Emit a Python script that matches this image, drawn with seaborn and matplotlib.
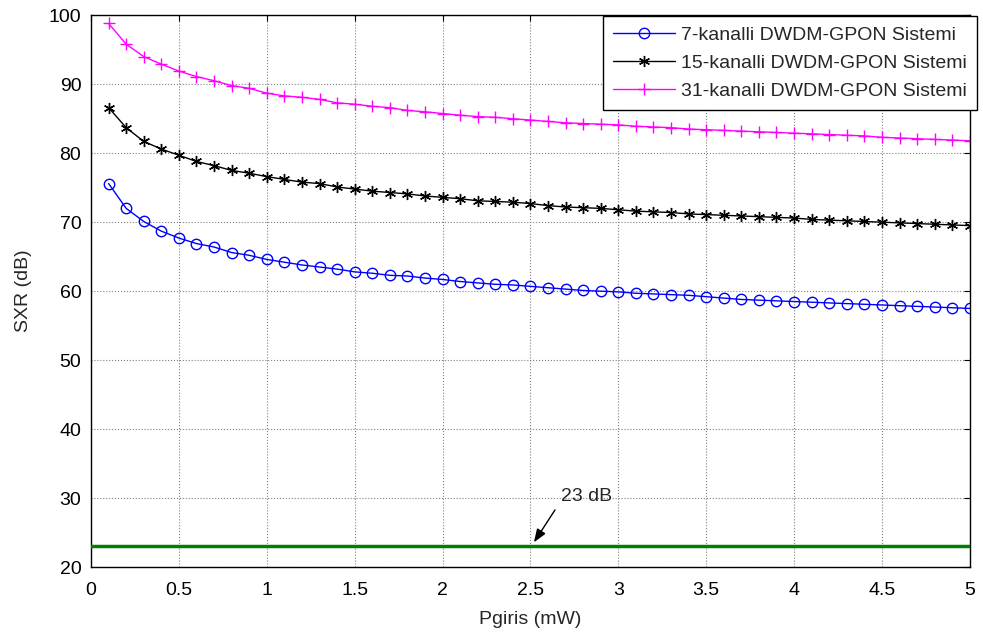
import numpy as np
import pandas as pd
import matplotlib
matplotlib.use("Agg")
import matplotlib.pyplot as plt
import seaborn as sns

# ---- data ----
x_vals = [round(0.1 * i, 1) for i in range(1, 51)]

sxr_7 = [75.6, 72.0, 70.1, 68.7, 67.7, 66.9, 66.4, 65.6, 65.2, 64.6,
         64.2, 63.8, 63.5, 63.2, 62.8, 62.6, 62.3, 62.2, 61.9, 61.7,
         61.4, 61.2, 61.0, 60.9, 60.7, 60.5, 60.3, 60.1, 60.0, 59.9,
         59.7, 59.6, 59.5, 59.4, 59.2, 59.0, 58.8, 58.7, 58.6, 58.5,
         58.4, 58.3, 58.2, 58.1, 58.0, 57.9, 57.8, 57.7, 57.6, 57.5]

sxr_15 = [86.6, 83.7, 81.7, 80.6, 79.7, 78.8, 78.2, 77.5, 77.1, 76.6,
          76.2, 75.8, 75.6, 75.1, 74.8, 74.5, 74.3, 74.1, 73.8, 73.6,
          73.4, 73.1, 73.0, 72.9, 72.7, 72.4, 72.2, 72.1, 72.0, 71.8,
          71.6, 71.5, 71.4, 71.2, 71.1, 71.0, 70.9, 70.8, 70.7, 70.6,
          70.4, 70.3, 70.2, 70.1, 70.0, 69.9, 69.8, 69.7, 69.6, 69.5]

sxr_31 = [98.8, 95.8, 94.0, 92.9, 91.9, 91.1, 90.5, 89.8, 89.4, 88.7,
          88.3, 88.1, 87.8, 87.3, 87.1, 86.8, 86.6, 86.2, 86.0, 85.75,
          85.5, 85.3, 85.2, 85.0, 84.8, 84.6, 84.4, 84.3, 84.2, 84.1,
          83.9, 83.8, 83.7, 83.5, 83.4, 83.3, 83.2, 83.1, 83.0, 82.9,
          82.8, 82.7, 82.6, 82.5, 82.3, 82.2, 82.1, 82.0, 81.9, 81.8]

threshold = 23
labels = ["7-kanalli DWDM-GPON Sistemi",
          "15-kanalli DWDM-GPON Sistemi",
          "31-kanalli DWDM-GPON Sistemi"]
x_ticks = [0, 0.5, 1, 1.5, 2, 2.5, 3, 3.5, 4, 4.5, 5]
x_tick_labels = ["0", "0.5", "1", "1.5", "2", "2.5", "3", "3.5", "4", "4.5", "5"]
y_ticks = [20, 30, 40, 50, 60, 70, 80, 90, 100]

# ---- style ----
sns.set_style("white")
plt.rcParams['font.family'] = ['Liberation Sans', 'DejaVu Sans']

fig = plt.figure(figsize=(9.83, 6.33), dpi=100)
ax = fig.add_axes([0.0926, 0.104, 0.894, 0.872])

sns.lineplot(x=x_vals, y=sxr_7, ax=ax, color="#0000FF", lw=1.0,
             marker="o", markersize=7.5, markerfacecolor="none",
             markeredgecolor="#0000FF", markeredgewidth=1.0, label=labels[0])
sns.lineplot(x=x_vals, y=sxr_15, ax=ax, color="black", lw=1.0,
             marker=(6, 2, 0), markersize=8, markeredgecolor="black",
             markeredgewidth=1.0, label=labels[1])
sns.lineplot(x=x_vals, y=sxr_31, ax=ax, color="#FF00FF", lw=1.0,
             marker="+", markersize=9, markeredgecolor="#FF00FF",
             markeredgewidth=1.0, label=labels[2])

ax.axhline(threshold, color="#008000", lw=2.5, zorder=3)

ax.annotate("", xy=(2.52, 23.6), xytext=(2.64, 28.3),
            arrowprops=dict(arrowstyle="-|>,head_length=0.8,head_width=0.3",
                            color="black", lw=1.0, shrinkA=0, shrinkB=0))
ax.text(2.82, 30.3, "23 dB", ha="center", va="center", fontsize=14)

ax.set_xlim(0, 5)
ax.set_ylim(20, 100)
ax.set_xticks(x_ticks)
ax.set_xticklabels(x_tick_labels)
ax.set_yticks(y_ticks)
ax.tick_params(direction="in", top=True, right=True, labelsize=14,
               length=4, width=0.8, colors="black")
ax.tick_params(axis="x", pad=11)
ax.tick_params(axis="y", pad=7)
ax.grid(True, color="#808080", linestyle=":", linewidth=0.8)
for s in ax.spines.values():
    s.set_color("black")
    s.set_linewidth(1.0)

ax.set_xlabel("Pgiris (mW)", fontsize=14, labelpad=8)
ax.set_ylabel("SXR (dB)", fontsize=14, labelpad=12)

leg = ax.legend(loc="upper right", bbox_to_anchor=(1.008, 0.998),
                fontsize=14, frameon=True, fancybox=False,
                edgecolor="black", framealpha=1, borderaxespad=0,
                handlelength=3.2, handletextpad=0.3,
                labelspacing=0.55, borderpad=0.5)
leg.get_frame().set_linewidth(1.0)

fig.savefig("out.png", dpi=100)
